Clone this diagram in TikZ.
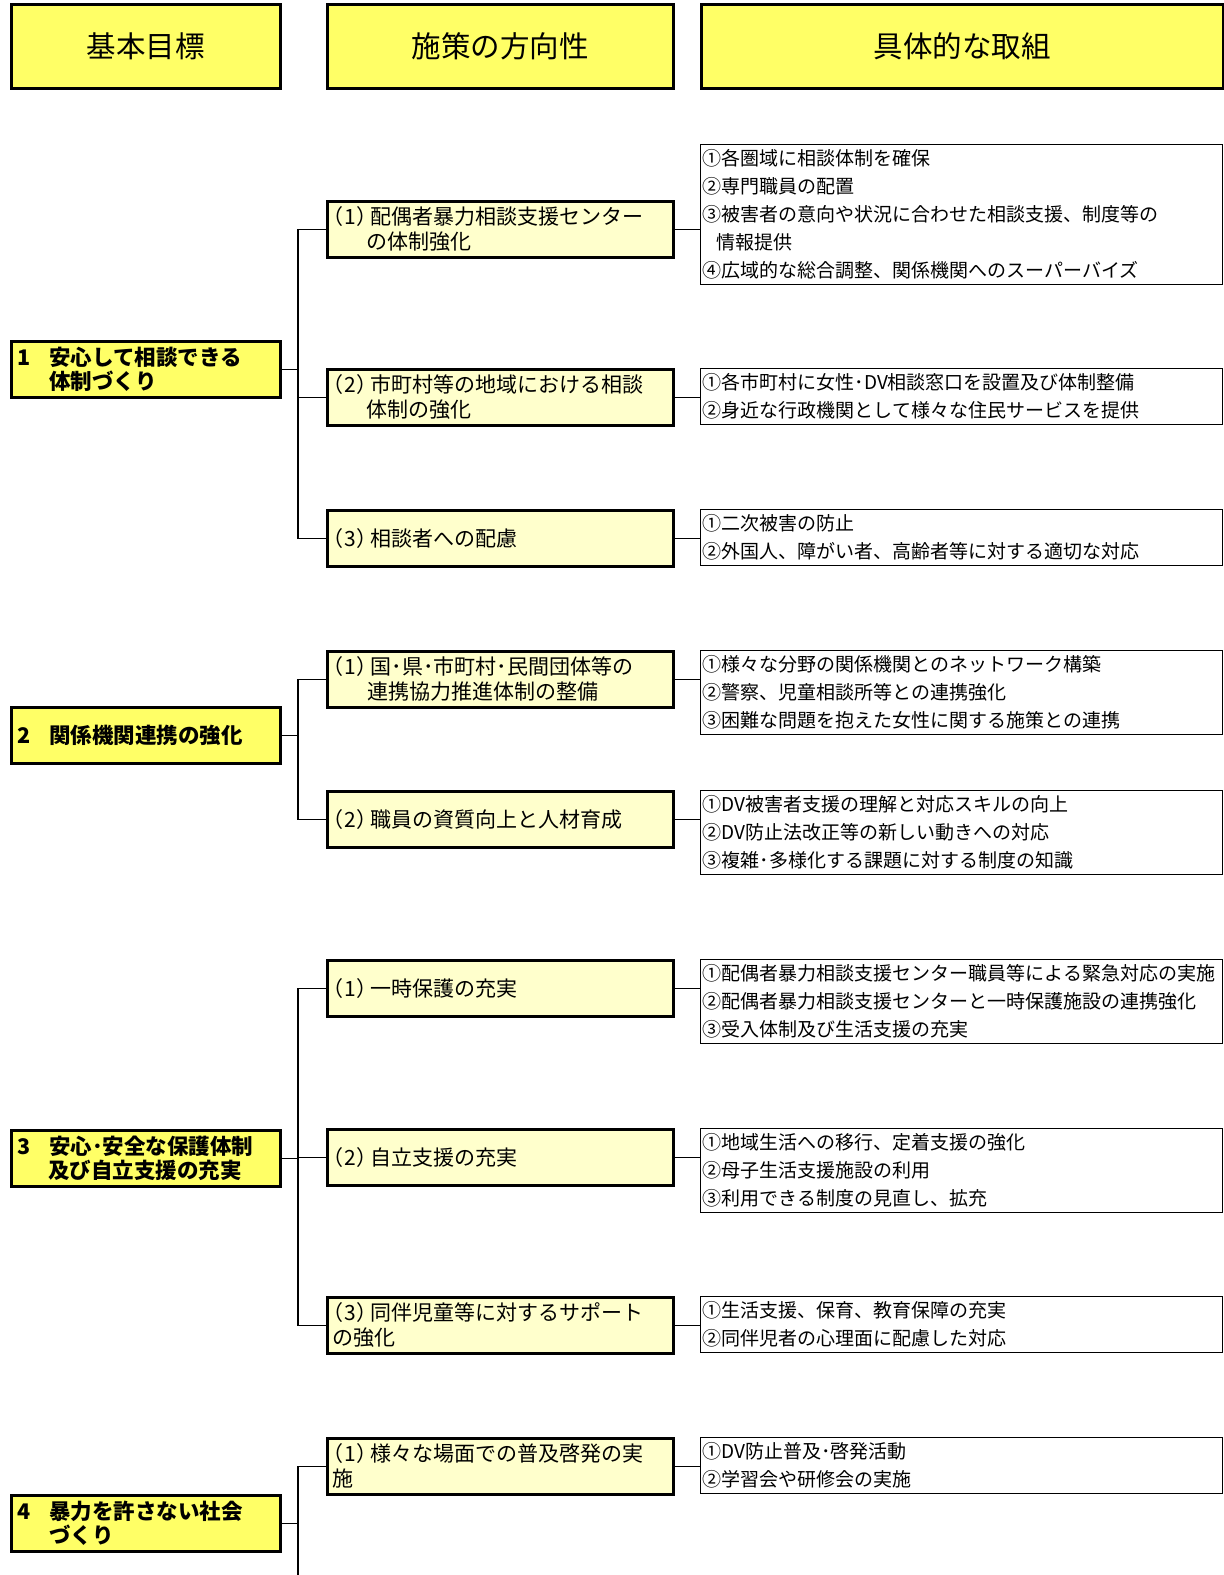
\documentclass[tikz,border=0pt]{standalone}
\usepackage{fontspec}
\setmainfont{Noto Sans CJK JP}
\newfontfamily\jpp[RawFeature=+palt]{Noto Sans CJK JP}
\newcommand\pn[1]{{\jpp （\kern1.5pt#1\kern1.5pt）}\kern3pt}
\definecolor{hdrfill}{HTML}{FFFF66}
\definecolor{midfill}{HTML}{FFFFCC}
\tikzset{
 hdrbox/.style={draw, line width=2.5pt, fill=hdrfill, anchor=north west, minimum height=84pt, inner sep=0pt, font=\fontsize{29.5}{32}\selectfont},
 goalbox/.style={draw, line width=2.5pt, fill=hdrfill, anchor=north west, minimum width=269pt, minimum height=56pt, text width=257pt, inner xsep=6pt, inner ysep=0pt, align=left, font=\bfseries\fontsize{21.5}{24}\selectfont},
 midbox/.style={draw, line width=2.5pt, fill=midfill, anchor=north west, minimum width=346pt, minimum height=56pt, text width=336pt, inner xsep=5pt, inner ysep=0pt, align=left, font=\fontsize{21}{25}\selectfont},
 actbox/.style={draw, line width=1.3pt, fill=white, anchor=north west, minimum width=522pt, text width=518pt, inner xsep=2pt, inner ysep=0pt, align=left, font=\fontsize{19}{28}\selectfont},
 link/.style={line width=1.3pt}
}
\begin{document}
\begin{tikzpicture}[x=1pt,y=-1pt]
\useasboundingbox[fill=white] (0,0) rectangle (1224,1575);
% headers
\node[hdrbox, minimum width=269pt] (h1) at (10,3) {基本目標};
\node[hdrbox, minimum width=346pt] (h2) at (326,3) {施策の方向性};
\node[hdrbox, minimum width=522pt] (h3) at (700,3) {具体的な取組};
% goals
\node[goalbox] (g1) at (10,340) {\makebox[32pt][l]{1}安心して相談できる\\\hspace*{32pt}体制づくり};
\node[goalbox] (g2) at (10,706) {\makebox[32pt][l]{2}関係機関連携の強化};
\node[goalbox] (g3) at (10,1129) {\makebox[32pt][l]{3}安心･安全な保護体制\\\hspace*{31pt}及び自立支援の充実};
\node[goalbox] (g4) at (10,1494) {\makebox[32pt][l]{4}暴力を許さない社会\\\hspace*{32pt}づくり};
% directions
\node[midbox] (m11) at (326,200) {\pn{1}配偶者暴力相談支援センター\\\hspace*{34pt}の体制強化};
\node[midbox] (m12) at (326,368) {\pn{2}市町村等の地域における相談\\\hspace*{34pt}体制の強化};
\node[midbox] (m13) at (326,509) {\pn{3}相談者への配慮};
\node[midbox] (m21) at (326,650) {\pn{1}国･県･市町村･民間団体等の\\\hspace*{35pt}連携協力推進体制の整備};
\node[midbox] (m22) at (326,790) {\pn{2}職員の資質向上と人材育成};
\node[midbox] (m31) at (326,959) {\pn{1}一時保護の充実};
\node[midbox] (m32) at (326,1128) {\pn{2}自立支援の充実};
\node[midbox] (m33) at (326,1296) {\pn{3}同伴児童等に対するサポート\\の強化};
\node[midbox] (m41) at (326,1437) {\pn{1}様々な場面での普及啓発の実\\施};
% actions
\node[actbox, minimum height=140pt] (r11) at (700,144) {①各圏域に相談体制を確保\\②専門職員の配置\\③被害者の意向や状況に合わせた相談支援、制度等の\\\hspace*{14pt}情報提供\\④広域的な総合調整、関係機関へのスーパーバイズ};
\node[actbox, minimum height=56pt] (r12) at (700,368) {①各市町村に女性･DV相談窓口を設置及び体制整備\\②身近な行政機関として様々な住民サービスを提供};
\node[actbox, minimum height=56pt] (r13) at (700,509) {①二次被害の防止\\②外国人、障がい者、高齢者等に対する適切な対応};
\node[actbox, minimum height=84pt] (r21) at (700,650) {①様々な分野の関係機関とのネットワーク構築\\②警察、児童相談所等との連携強化\\③困難な問題を抱えた女性に関する施策との連携};
\node[actbox, minimum height=84pt] (r22) at (700,790) {①DV被害者支援の理解と対応スキルの向上\\②DV防止法改正等の新しい動きへの対応\\③複雑･多様化する課題に対する制度の知識};
\node[actbox, minimum height=84pt] (r31) at (700,959) {①配偶者暴力相談支援センター職員等による緊急対応の実施\\②配偶者暴力相談支援センターと一時保護施設の連携強化\\③受入体制及び生活支援の充実};
\node[actbox, minimum height=84pt] (r32) at (700,1128) {①地域生活への移行、定着支援の強化\\②母子生活支援施設の利用\\③利用できる制度の見直し、拡充};
\node[actbox, minimum height=56pt] (r33) at (700,1296) {①生活支援、保育、教育保障の充実\\②同伴児者の心理面に配慮した対応};
\node[actbox, minimum height=56pt] (r41) at (700,1437) {①DV防止普及･啓発活動\\②学習会や研修会の実施};
% trunk references
\coordinate (t) at (298,0);
\coordinate (t4) at (298,1575);
% group 1
\draw[link] (g1.east) -- (g1.east -| t);
\draw[link] (m11.west) -- (m11.west -| t) -- (m13.west -| t) -- (m13.west);
\draw[link] (m12.west) -- (m12.west -| t);
% group 2
\draw[link] (g2.east) -- (g2.east -| t);
\draw[link] (m21.west) -- (m21.west -| t) -- (m22.west -| t) -- (m22.west);
% group 3
\draw[link] (g3.east) -- (g3.east -| t);
\draw[link] (m31.west) -- (m31.west -| t) -- (m33.west -| t) -- (m33.west);
\draw[link] (m32.west) -- (m32.west -| t);
% group 4
\draw[link] (g4.east) -- (g4.east -| t);
\draw[link] (m41.west) -- (m41.west -| t) -- (t4);
% to actions
\foreach \m/\r in {m11/r11, m12/r12, m13/r13, m21/r21, m22/r22, m31/r31, m32/r32, m33/r33, m41/r41}
  \draw[link] (\m.east) -- (\m.east -| \r.west);
\end{tikzpicture}
\end{document}
